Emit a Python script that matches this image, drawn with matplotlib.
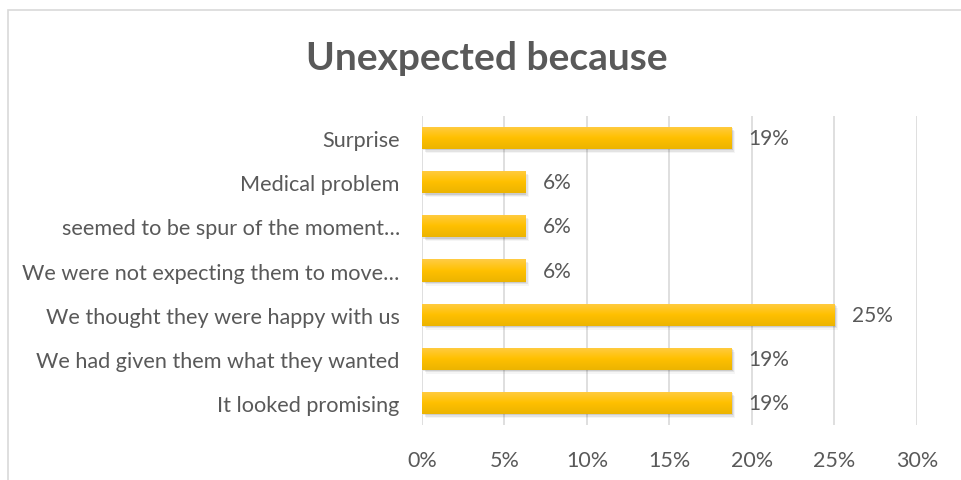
import matplotlib
matplotlib.use("Agg")
import matplotlib.pyplot as plt
import numpy as np
from matplotlib.patches import Rectangle

# survey answers, bottom to top as drawn
categories = [
    "It looked promising",
    "We had given them what they wanted",
    "We thought they were happy with us",
    "We were not expecting them to move…",
    "seemed to be spur of the moment…",
    "Medical problem",
    "Surprise",
]
shares = [0.1875, 0.1875, 0.25, 0.0625, 0.0625, 0.0625, 0.1875]
xticks = [0, 0.05, 0.10, 0.15, 0.20, 0.25, 0.30]

text_grey = "#595959"
plt.rcParams["font.family"] = ["Lato", "DejaVu Sans"]

fig = plt.figure(figsize=(9.61, 4.81), dpi=100)
ax = fig.add_axes([0.4391, 0.1143, 0.5151, 0.6425])

# chart frame
fig.patches.append(Rectangle((8 / 961, -0.01), 1.0, 1 - 11 / 481 + 0.01,
                             transform=fig.transFigure, fill=False,
                             edgecolor="#d9d9d9", linewidth=1.2))

y = np.arange(len(categories))
h = 0.5

# vertical gradient for the bars
grad = np.linspace(0, 1, 64).reshape(-1, 1)
cmap = matplotlib.colors.LinearSegmentedColormap.from_list(
    "gold", ["#ecb400", "#ffc000", "#ffcc44"])

for yi, v in zip(y, shares):
    # soft drop shadow
    for k, a in enumerate([0.10, 0.07, 0.04]):
        off = 0.0008 * (k + 1)
        ax.add_patch(Rectangle((0 + off, yi - h / 2 - 0.03 * (k + 1)), v,
                               h, facecolor="black", alpha=a,
                               edgecolor="none", zorder=2))
    bar = ax.barh(yi, v, height=h, color="#ffc000", zorder=3)[0]
    im = ax.imshow(grad, cmap=cmap, aspect="auto", zorder=4,
                   extent=[0, v, yi - h / 2, yi + h / 2], origin="lower")
    im.set_clip_path(bar)
    ax.text(v + 0.0105, yi, f"{round(v * 100):.0f}%", va="center",
            ha="left", fontsize=15, color=text_grey)

ax.set_xlim(0, 0.30)
ax.set_ylim(-0.5, len(categories) - 0.5)
ax.set_xticks(xticks)
ax.set_xticklabels([f"{round(t * 100)}%" for t in xticks])
ax.set_yticks(y)
ax.set_yticklabels(categories)
ax.tick_params(axis="both", length=0, labelcolor=text_grey)
ax.tick_params(axis="y", pad=16, labelsize=15.6)
ax.tick_params(axis="x", pad=18, labelsize=15.5)
ax.grid(axis="x", color="#d9d9d9", linewidth=1.2, zorder=0)
ax.set_axisbelow(True)
for s in ax.spines.values():
    s.set_visible(False)

fig.text(0.507, 0.878, "Unexpected because", ha="center", va="center",
         fontsize=28, fontweight="bold", color=text_grey)

fig.savefig("out.png", dpi=100)
